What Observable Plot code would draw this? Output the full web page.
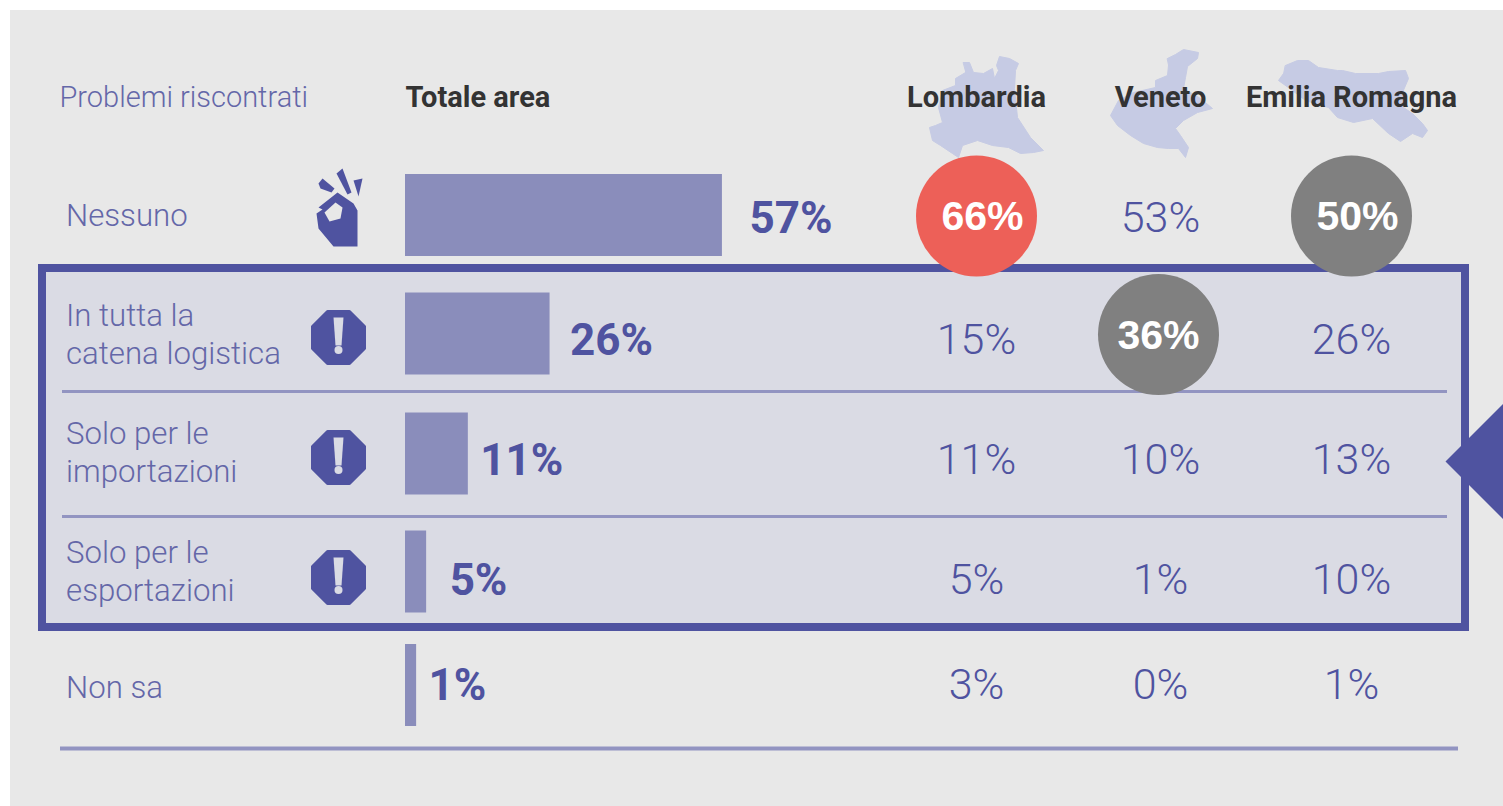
<!DOCTYPE html>
<html>
<head>
<meta charset="utf-8">
<script src="https://cdn.jsdelivr.net/npm/d3@7"></script>
<script src="https://cdn.jsdelivr.net/npm/@observablehq/plot@0.6"></script>
<style>
html,body{margin:0;padding:0;background:#fff;overflow:hidden}
svg{display:block}
</style>
</head>
<body>
<div id="chart"></div>
<script>
// ---------- data ----------
const categories = ["Nessuno", "In tutta la\ncatena logistica", "Solo per le\nimportazioni", "Solo per le\nesportazioni", "Non sa"];
const totale = [57, 26, 11, 5, 1];
const barLengths = [57, 26, 11.3, 3.8, 2]; // bar lengths
const lombardia = [66, 15, 11, 5, 3];
const veneto = [53, 36, 10, 1, 0];
const emilia = [50, 26, 13, 10, 1];
const regions = ["Lombardia", "Veneto", "Emilia Romagna"];
const regionValues = [lombardia, veneto, emilia];
const highlights = [["Lombardia", 0, "#ED6058"], ["Emilia Romagna", 0, "#808080"], ["Veneto", 1, "#808080"]];
const icons = ["ok", "alert", "alert", "alert", null];

// ---------- layout ----------
const W = 1503, H = 806, barX0 = 405, pxPerPct = 5.56;
const xp = px => (px - barX0) / pxPerPct;
const rowY = [215, 333.5, 453.5, 571.5, 685];
const labelY = [213, 332, 450, 569, 685];
const totalY = [218, 340, 460, 580, 685];
const valueY = [218, 340, 460, 580, 685];
const iconY = [0, 337, 457, 577, 0];
const circleY = [215.5, 334];
const regionX = {"Lombardia": 976, "Veneto": 1160, "Emilia Romagna": 1351};
const totalGap = [27, 20, 12, 23, 12];
const BLUE = "#4F53A0", LABEL = "#6467A8", BAR = "#8A8DBB", RULE = "#9294C1", MAP = "#C6CBE4";
const PANEL = "#E8E8E8", FRAME = "#DADBE4";
const ROBOTO = "Roboto, sans-serif";

// hand-traced regional outlines
const mapShapes = [
  [[963,62],[969,62],[973,72],[983,73],[992,68],[994,78],[998,70],[996,65],[999,56],[1009,58],[1018,63],[1015,70],[1014,88],[1017,117],[1030,137],[1043,150],[1033,152],[1020,153],[1008,147],[992,145],[977,140],[962,145],[958,157],[952,153],[940,145],[932,140],[929,127],[935,125],[942,122],[938,107],[942,90],[955,85],[955,78],[965,72]],
  [[1167,58],[1175,54],[1183,49],[1198,52],[1197,58],[1187,66],[1185,77],[1183,88],[1200,98],[1212,108],[1197,112],[1183,120],[1175,128],[1180,135],[1188,147],[1185,157],[1178,148],[1168,148],[1157,147],[1143,143],[1130,135],[1117,125],[1110,115],[1118,100],[1133,92],[1155,87],[1155,80],[1167,75],[1168,65]],
  [[1285,65],[1297,60],[1308,60],[1318,67],[1337,70],[1342,70],[1355,73],[1378,73],[1388,71],[1405,70],[1408,78],[1402,92],[1403,107],[1412,113],[1422,123],[1427,130],[1422,137],[1412,133],[1400,141],[1388,133],[1372,118],[1353,122],[1337,117],[1328,107],[1305,100],[1292,90],[1278,80],[1283,73]]
];
const triangle = [[1445,461],[1503,403],[1503,519]];
const handShapes = [
  {fill: BLUE, pts: [[337,192],[353,203],[357,210],[357,246],[333,246],[318,228],[316,213],[322,209],[318,207]]},
  {fill: PANEL, pts: [[335,202],[342,207],[340,218],[329,221],[324,212]]},
  {fill: BLUE, pts: [[318,183],[322,178],[334,188],[331,192],[320,188]]},
  {fill: BLUE, pts: [[336,173],[342,168],[351,192],[347,194]]},
  {fill: BLUE, pts: [[353,180],[362,178],[358,196]]}
];
const octagon = [[-11,-26],[11,-26],[26,-11],[26,11],[11,26],[-11,26],[-26,11],[-26,-11]];
const bang = [[-5,-20],[5,-20],[3,8],[-3,8]];

// ---------- tables ----------
const rows = categories.map((label, i) => ({label, i, total: totale[i], bar: barLengths[i]}));
const cells = regions.flatMap((region, c) => regionValues[c].map((v, i) => ({region, i, v})));
const isHi = d => highlights.some(h => h[0] === d.region && h[1] === d.i);
const hiCells = highlights.map(([region, i, color]) => ({region, i, color, v: regionValues[regions.indexOf(region)][i]}));
const alertRows = rows.filter(r => icons[r.i] === "alert");
const ICON_X = 338;
const octagons = alertRows.flatMap(r => octagon.map(p => ({x: xp(ICON_X + p[0]), y: iconY[r.i] + p[1], k: r.i})));
const bangs = alertRows.flatMap(r => bang.map(p => ({x: xp(ICON_X + p[0]), y: iconY[r.i] + p[1], k: r.i})));
const maps = mapShapes.flatMap((s, k) => s.map(p => ({x: xp(p[0]), y: p[1], k})));
const fillPoly = (pts, opts) => Plot.line(pts, {x: "x", y: "y", z: "k", curve: "linear-closed", stroke: null, ...opts});
const shiftX = (values, gaps) => Float64Array.from(values, (x, j) => x + gaps[j]);

const plot = Plot.plot({
  width: W, height: H, margin: 0,
  style: {background: "transparent", overflow: "hidden"},
  x: {type: "linear", domain: [xp(0), xp(W)], range: [0, W], axis: null},
  y: {type: "linear", domain: [0, H], range: [0, H], axis: null},
  marks: [
    // panel + frame
    Plot.rect([0], {x1: xp(10), x2: xp(W), y1: 10, y2: H, fill: PANEL}),
    Plot.rect([0], {x1: xp(42), x2: xp(1465), y1: 268, y2: 627, fill: FRAME, stroke: BLUE, strokeWidth: 8}),
    Plot.ruleY([391, 516], {x1: xp(62), x2: xp(1447), stroke: RULE, strokeWidth: 3}),
    Plot.ruleY([748], {x1: xp(60), x2: xp(1458), stroke: RULE, strokeWidth: 4}),

    // maps behind the headers
    fillPoly(maps, {fill: MAP, stroke: MAP, strokeWidth: 1, strokeLinejoin: "round"}),
    // headers
    Plot.text(["Problemi riscontrati"], {x: xp(59), y: 97, text: d => d, textAnchor: "start", fill: LABEL, fontFamily: ROBOTO, fontWeight: 300, fontSize: 29}),
    Plot.text(["Totale area"], {x: xp(405), y: 97, text: d => d, textAnchor: "start", fill: "#333", fontFamily: ROBOTO, fontWeight: 700, fontSize: 29}),
    Plot.text(regions, {x: d => xp(regionX[d]), y: 97, text: d => d, textAnchor: "middle", fill: "#333", fontFamily: ROBOTO, fontWeight: 700, fontSize: 29}),

    // row labels
    Plot.text(rows, {x: xp(65.5), y: d => labelY[d.i], text: "label", textAnchor: "start", lineHeight: 1.22, fill: LABEL, fontFamily: ROBOTO, fontWeight: 300, fontSize: 31.2}),

    // icons
    ...handShapes.map((s, k) => fillPoly(s.pts.map(p => ({x: xp(p[0]), y: p[1], k})), {fill: s.fill})),
    fillPoly(octagons, {fill: BLUE, stroke: BLUE, strokeWidth: 3, strokeLinejoin: "round"}),
    fillPoly(bangs, {fill: FRAME}),
    Plot.dot(alertRows, {x: xp(ICON_X), y: d => iconY[d.i] + 12.5, r: 4, fill: FRAME}),

    // bars and totals
    Plot.rectX(rows, {x: "bar", y1: d => rowY[d.i] - 41, y2: d => rowY[d.i] + 41, fill: BAR}),
    Plot.text(rows, {x: "bar", y: d => totalY[d.i], text: d => d.total + "%", textAnchor: "start", fill: BLUE, fontFamily: ROBOTO, fontWeight: 700, fontSize: 44,
      render: (index, scales, values, dims, ctx, next) => next(index, scales, {...values, x: shiftX(values.x, totalGap)}, dims, ctx)}),

    // regional values
    Plot.text(cells.filter(d => !isHi(d)), {x: d => xp(regionX[d.region]), y: d => valueY[d.i], text: d => d.v + "%", textAnchor: "middle", fill: BLUE, fontFamily: ROBOTO, fontWeight: 300, fontSize: 43}),

    // highlights
    Plot.dot(hiCells, {x: d => xp(regionX[d.region] + (d.region === "Veneto" ? -2 : 0)), y: d => circleY[d.i], r: 60.5, fill: "color"}),
    Plot.text(hiCells, {x: d => xp(regionX[d.region] + (d.region === "Veneto" ? -2 : 6)), y: d => circleY[d.i] + 1, text: d => d.v + "%", textAnchor: "middle", fill: "#fff", fontFamily: "'Liberation Sans', Arial, sans-serif", fontWeight: 700, fontSize: 41}),

    // pointer triangle
    fillPoly(triangle.map(p => ({x: xp(p[0]), y: p[1], k: 0})), {fill: BLUE})
  ]
});
document.getElementById("chart").appendChild(plot);
</script>
</body>
</html>
